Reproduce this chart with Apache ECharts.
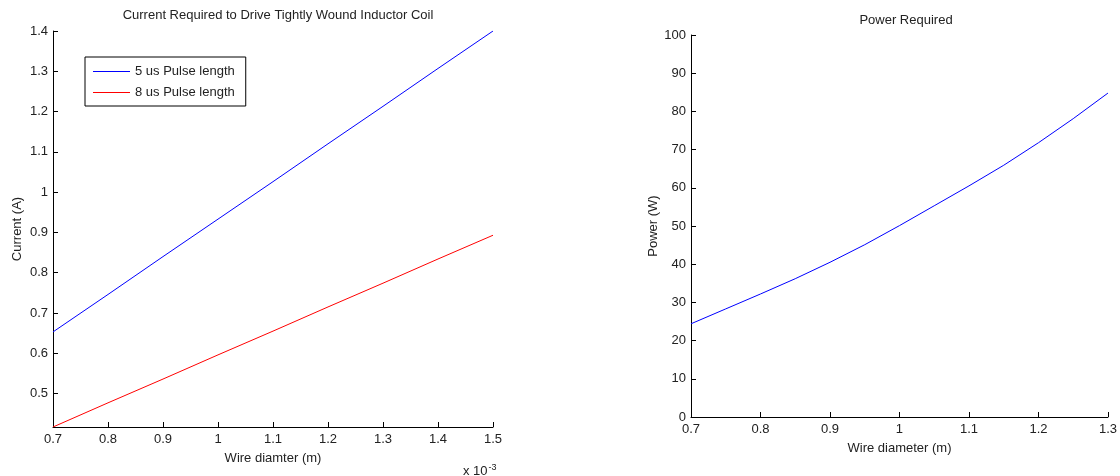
<!DOCTYPE html>
<html>
<head>
<meta charset="utf-8">
<script src="https://cdn.jsdelivr.net/npm/echarts@6/dist/echarts.min.js"></script>
<style>html,body{margin:0;padding:0;background:#fff;}#c{width:1120px;height:476px;}</style>
</head>
<body>
<div id="c"></div>
<script>
// Left chart: Current vs wire diameter (x 10^-3 m)
const diamLeft = [0.7, 0.8, 0.9, 1.0, 1.1, 1.2, 1.3, 1.4, 1.5];
const current5us = [0.653, 0.746, 0.840, 0.933, 1.026, 1.120, 1.213, 1.307, 1.400];
const current8us = [0.417, 0.477, 0.536, 0.596, 0.655, 0.715, 0.774, 0.834, 0.893];
const leftXTicks = [0.7, 0.8, 0.9, 1.0, 1.1, 1.2, 1.3, 1.4, 1.5];
const leftYTicks = [0.5, 0.6, 0.7, 0.8, 0.9, 1.0, 1.1, 1.2, 1.3, 1.4];

// Right chart: Power vs wire diameter
const diamRight = [0.7, 0.75, 0.8, 0.85, 0.9, 0.95, 1.0, 1.05, 1.1, 1.15, 1.2, 1.25, 1.3];
const power = [24.4, 28.3, 32.2, 36.2, 40.5, 45.1, 50.1, 55.3, 60.5, 65.9, 71.8, 78.1, 84.8];
const rightXTicks = [0.7, 0.8, 0.9, 1.0, 1.1, 1.2, 1.3];
const rightYTicks = [0, 10, 20, 30, 40, 50, 60, 70, 80, 90, 100];

const FONT = '"Liberation Sans", Arial, sans-serif';
const TXT = '#222';
const FS = 13;
const BLUE = '#0000ff';
const RED = '#ff0000';

function pairs(xs, ys) { return xs.map((x, i) => [x, ys[i]]); }

function xAxisCfg(grid, min, max, ticks, name) {
  return {
    type: 'value', gridIndex: grid, min: min, max: max,
    name: name, nameLocation: 'middle', nameGap: 25,
    nameTextStyle: { color: TXT, fontSize: FS, fontFamily: FONT },
    axisLine: { show: true, onZero: false, lineStyle: { color: '#000', width: 1 } },
    axisTick: { show: true, inside: true, length: 5, lineStyle: { color: '#000' }, customValues: ticks },
    axisLabel: { color: TXT, fontSize: FS, fontFamily: FONT, margin: 6, customValues: ticks,
                 showMinLabel: true, showMaxLabel: true },
    splitLine: { show: false }
  };
}
function yAxisCfg(grid, min, max, ticks, name, gap) {
  return {
    type: 'value', gridIndex: grid, min: min, max: max,
    name: name, nameLocation: 'middle', nameGap: gap, nameRotate: 90,
    nameTextStyle: { color: TXT, fontSize: FS, fontFamily: FONT },
    axisLine: { show: true, onZero: false, lineStyle: { color: '#000', width: 1 } },
    axisTick: { show: true, inside: true, length: 5, lineStyle: { color: '#000' }, customValues: ticks },
    axisLabel: { color: TXT, fontSize: FS, fontFamily: FONT, margin: 5, customValues: ticks },
    splitLine: { show: false }
  };
}

const chart = echarts.init(document.getElementById('c'), null, { renderer: 'canvas' });
chart.setOption({
  animation: false,
  backgroundColor: '#fff',
  title: [
    { text: 'Current Required to Drive Tightly Wound Inductor Coil', left: 273, top: 4, textAlign: 'center',
      textStyle: { color: TXT, fontSize: FS, fontWeight: 'normal', fontFamily: FONT } },
    { text: 'Power Required', left: 901, top: 9, textAlign: 'center',
      textStyle: { color: TXT, fontSize: FS, fontWeight: 'normal', fontFamily: FONT } },
    { text: 'x 10{sup|-3}', left: 458, top: 458,
      textStyle: { color: TXT, fontSize: FS, fontWeight: 'normal', fontFamily: FONT,
        rich: { sup: { fontSize: 9, verticalAlign: 'top', padding: [0, 0, 8, 1], color: TXT, fontFamily: FONT } } } }
  ],
  legend: {
    left: 85, top: 57, orient: 'vertical',
    borderColor: '#000', borderWidth: 1, backgroundColor: '#fff',
    padding: [8, 11, 7, 8], itemGap: 8, itemWidth: 37, itemHeight: 1,
    icon: 'rect',
    textStyle: { color: TXT, fontSize: FS, fontFamily: FONT },
    data: ['5 us Pulse length', '8 us Pulse length']
  },
  grid: [
    { left: 53, right: 627, top: 31, bottom: 49 },
    { left: 691, right: 7, top: 35, bottom: 59 }
  ],
  xAxis: [
    xAxisCfg(0, 0.7, 1.5, leftXTicks, 'Wire diamter (m)'),
    xAxisCfg(1, 0.7, 1.3, rightXTicks, 'Wire diameter (m)')
  ],
  yAxis: [
    yAxisCfg(0, 0.417, 1.4, leftYTicks, 'Current (A)', 29),
    yAxisCfg(1, 0, 100, rightYTicks, 'Power (W)', 30)
  ],
  series: [
    { name: '5 us Pulse length', type: 'line', xAxisIndex: 0, yAxisIndex: 0, symbol: 'none',
      data: pairs(diamLeft, current5us), lineStyle: { color: BLUE, width: 1 }, itemStyle: { color: BLUE } },
    { name: '8 us Pulse length', type: 'line', xAxisIndex: 0, yAxisIndex: 0, symbol: 'none',
      data: pairs(diamLeft, current8us), lineStyle: { color: RED, width: 1 }, itemStyle: { color: RED } },
    { name: 'Power', type: 'line', xAxisIndex: 1, yAxisIndex: 1, symbol: 'none',
      data: pairs(diamRight, power), lineStyle: { color: BLUE, width: 1 }, itemStyle: { color: BLUE } }
  ]
});
</script>
</body>
</html>
